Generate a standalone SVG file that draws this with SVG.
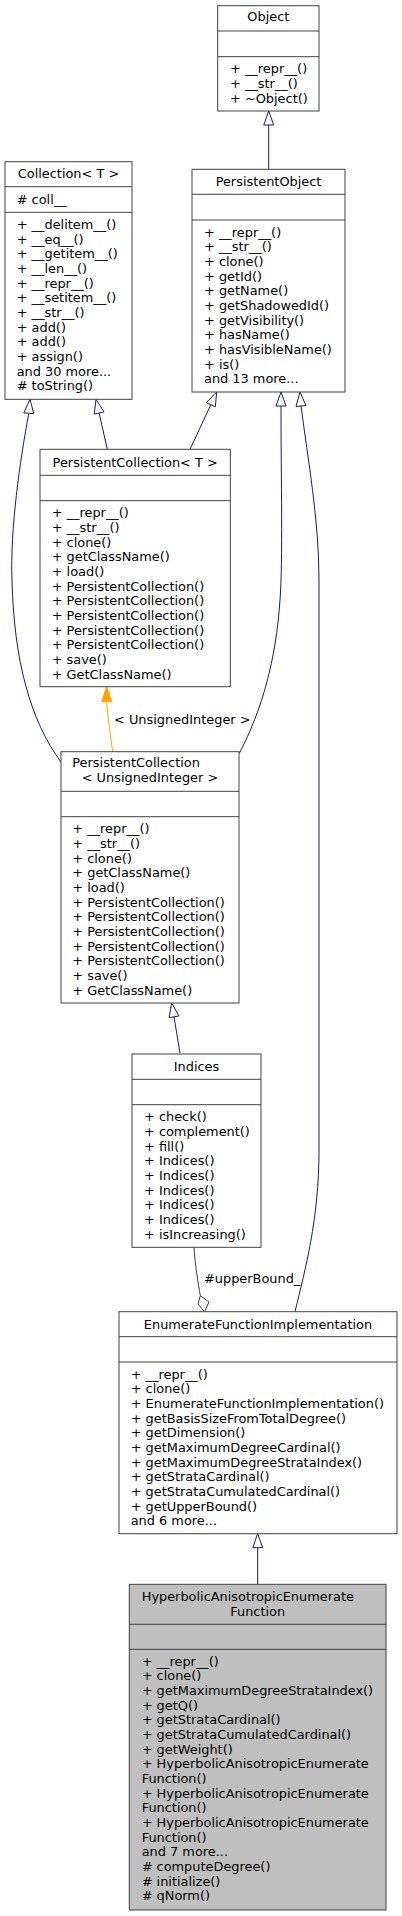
<svg xmlns="http://www.w3.org/2000/svg" width="402" height="1916" viewBox="0 0 402 1916">
<style>
.box{fill:#ffffff;stroke:#404040;stroke-width:1}
.grey{fill:#bfbfbf;stroke:#404040;stroke-width:1}
.sep{stroke:#404040;stroke-width:1}
text{font-family:"DejaVu Sans","Liberation Sans",sans-serif;font-size:12.9px;fill:#000}
.c{text-anchor:middle}
.e{fill:none;stroke:#191970;stroke-width:1}
.ah{fill:#ffffff;stroke:#191970;stroke-width:1}
.o{fill:none;stroke:#ffa500;stroke-width:1}
.oh{fill:#ffa500;stroke:#ffa500;stroke-width:1}
.g{fill:none;stroke:#404040;stroke-width:1}
.gh{fill:#ffffff;stroke:#404040;stroke-width:1}
</style>
<rect width="402" height="1916" fill="#ffffff"/>
<g id="connectors">
<path class="e" d="M268.7,169.3 L268.7,125"/>
<polygon class="ah" points="268.7,111 263.7,125 273.7,125"/>
<path class="e" d="M107.3,449.3 L99.1,413"/>
<polygon class="ah" points="96,399.3 104,411.9 94.2,414.1"/>
<path class="e" d="M190,449.3 L210.8,404.7"/>
<polygon class="ah" points="216.7,392 215.3,406.8 206.3,402.6"/>
<path class="e" d="M28.8,413.3 C20,460 10,530 12,580 C14,660 30,720 61,762"/>
<polygon class="ah" points="30,399.3 23.8,412.9 33.8,413.7"/>
<path class="e" d="M281,406 C281,480 283,560 280,600 C276,660 262,710 239.3,753.3"/>
<polygon class="ah" points="281,392 276,406 286,406"/>
<path class="e" d="M301,406 C308,460 319,520 319,580 L319,1150 C319,1220 305,1270 295,1311.7"/>
<polygon class="ah" points="300,392 296,406.4 306,405.6"/>
<path class="o" d="M106.7,701.7 C108,720 111,740 112.7,751.7"/>
<polygon class="oh" points="106.7,686.7 101.7,701.7 111.7,701.7"/>
<text x="114" y="723.5">&lt; UnsignedInteger &gt;</text>
<path class="e" d="M180,1053.3 L174,1016.8"/>
<polygon class="ah" points="171.7,1003 178.9,1016 169.1,1017.6"/>
<path class="g" d="M194,1247.3 C195,1265 198,1282 200.3,1295.7"/>
<polygon class="gh" points="204.5,1311.7 198,1304 200.3,1295.7 209,1302"/>
<text x="204" y="1283">#upperBound_</text>
<path class="e" d="M257.7,1547.7 L257.7,1584.3"/>
<polygon class="ah" points="257.7,1533.7 252.7,1547.7 262.7,1547.7"/>
</g>
<g id="Object">
<rect class="box" x="217.7" y="5.7" width="101.3" height="105.3"/>
<line class="sep" x1="217.7" y1="31" x2="319" y2="31"/>
<line class="sep" x1="217.7" y1="56.7" x2="319" y2="56.7"/>
<text class="c" x="268.3" y="21.2">Object</text>
<text x="230" y="73.2">+ __repr__()</text>
<text x="230" y="87.8">+ __str__()</text>
<text x="230" y="102.5">+ ~Object()</text>
</g>
<g id="Collection">
<rect class="box" x="5" y="161.7" width="127" height="237.6"/>
<line class="sep" x1="5" y1="186.7" x2="132" y2="186.7"/>
<line class="sep" x1="5" y1="212.3" x2="132" y2="212.3"/>
<text class="c" x="68.5" y="178">Collection&lt; T &gt;</text>
<text x="16.7" y="203.8"># coll__</text>
<text x="16.7" y="228.8">+ __delitem__()</text>
<text x="16.7" y="243.5">+ __eq__()</text>
<text x="16.7" y="258.1">+ __getitem__()</text>
<text x="16.7" y="272.8">+ __len__()</text>
<text x="16.7" y="287.5">+ __repr__()</text>
<text x="16.7" y="302.2">+ __setitem__()</text>
<text x="16.7" y="316.8">+ __str__()</text>
<text x="16.7" y="331.5">+ add()</text>
<text x="16.7" y="346.2">+ add()</text>
<text x="16.7" y="360.8">+ assign()</text>
<text x="16.7" y="375.5">and 30 more...</text>
<text x="16.7" y="390.2"># toString()</text>
</g>
<g id="PersistentObject">
<rect class="box" x="192" y="169.3" width="153" height="222.7"/>
<line class="sep" x1="192" y1="194.3" x2="345" y2="194.3"/>
<line class="sep" x1="192" y1="220" x2="345" y2="220"/>
<text class="c" x="268.5" y="186.3">PersistentObject</text>
<text x="204" y="236.5">+ __repr__()</text>
<text x="204" y="251.2">+ __str__()</text>
<text x="204" y="265.8">+ clone()</text>
<text x="204" y="280.5">+ getId()</text>
<text x="204" y="295.2">+ getName()</text>
<text x="204" y="309.8">+ getShadowedId()</text>
<text x="204" y="324.5">+ getVisibility()</text>
<text x="204" y="339.2">+ hasName()</text>
<text x="204" y="353.8">+ hasVisibleName()</text>
<text x="204" y="368.5">+ is()</text>
<text x="204" y="383.2">and 13 more...</text>
</g>
<g id="PersistentCollectionT">
<rect class="box" x="40" y="449.3" width="190.3" height="237.4"/>
<line class="sep" x1="40" y1="475.3" x2="230.3" y2="475.3"/>
<line class="sep" x1="40" y1="500.7" x2="230.3" y2="500.7"/>
<text class="c" x="135.2" y="466.8">PersistentCollection&lt; T &gt;</text>
<text x="51.7" y="517.2">+ __repr__()</text>
<text x="51.7" y="531.9">+ __str__()</text>
<text x="51.7" y="546.5">+ clone()</text>
<text x="51.7" y="561.2">+ getClassName()</text>
<text x="51.7" y="575.9">+ load()</text>
<text x="51.7" y="590.5">+ PersistentCollection()</text>
<text x="51.7" y="605.2">+ PersistentCollection()</text>
<text x="51.7" y="619.9">+ PersistentCollection()</text>
<text x="51.7" y="634.5">+ PersistentCollection()</text>
<text x="51.7" y="649.2">+ PersistentCollection()</text>
<text x="51.7" y="663.9">+ save()</text>
<text x="51.7" y="678.5">+ GetClassName()</text>
</g>
<g id="PersistentCollectionUI">
<rect class="box" x="61" y="751.7" width="178" height="251.3"/>
<line class="sep" x1="61" y1="791.3" x2="239" y2="791.3"/>
<line class="sep" x1="61" y1="816.7" x2="239" y2="816.7"/>
<text x="72.3" y="766.8">PersistentCollection</text>
<text class="c" x="150" y="781.8">&lt; UnsignedInteger &gt;</text>
<text x="72.3" y="833.2">+ __repr__()</text>
<text x="72.3" y="847.9">+ __str__()</text>
<text x="72.3" y="862.5">+ clone()</text>
<text x="72.3" y="877.2">+ getClassName()</text>
<text x="72.3" y="891.9">+ load()</text>
<text x="72.3" y="906.5">+ PersistentCollection()</text>
<text x="72.3" y="921.2">+ PersistentCollection()</text>
<text x="72.3" y="935.9">+ PersistentCollection()</text>
<text x="72.3" y="950.5">+ PersistentCollection()</text>
<text x="72.3" y="965.2">+ PersistentCollection()</text>
<text x="72.3" y="979.9">+ save()</text>
<text x="72.3" y="994.5">+ GetClassName()</text>
</g>
<g id="Indices">
<rect class="box" x="132" y="1054" width="129" height="193.3"/>
<line class="sep" x1="132" y1="1079.3" x2="261" y2="1079.3"/>
<line class="sep" x1="132" y1="1104.7" x2="261" y2="1104.7"/>
<text class="c" x="196.5" y="1070.8">Indices</text>
<text x="144" y="1121.2">+ check()</text>
<text x="144" y="1135.9">+ complement()</text>
<text x="144" y="1150.5">+ fill()</text>
<text x="144" y="1165.2">+ Indices()</text>
<text x="144" y="1179.9">+ Indices()</text>
<text x="144" y="1194.5">+ Indices()</text>
<text x="144" y="1209.2">+ Indices()</text>
<text x="144" y="1223.9">+ Indices()</text>
<text x="144" y="1238.5">+ isIncreasing()</text>
</g>
<g id="EnumerateFunctionImplementation">
<rect class="box" x="119" y="1311.7" width="278" height="222"/>
<line class="sep" x1="119" y1="1336.7" x2="397" y2="1336.7"/>
<line class="sep" x1="119" y1="1362" x2="397" y2="1362"/>
<text class="c" x="258" y="1328.7">EnumerateFunctionImplementation</text>
<text x="130.7" y="1378.5">+ __repr__()</text>
<text x="130.7" y="1393.2">+ clone()</text>
<text x="130.7" y="1407.8">+ EnumerateFunctionImplementation()</text>
<text x="130.7" y="1422.5">+ getBasisSizeFromTotalDegree()</text>
<text x="130.7" y="1437.2">+ getDimension()</text>
<text x="130.7" y="1451.8">+ getMaximumDegreeCardinal()</text>
<text x="130.7" y="1466.5">+ getMaximumDegreeStrataIndex()</text>
<text x="130.7" y="1481.2">+ getStrataCardinal()</text>
<text x="130.7" y="1495.8">+ getStrataCumulatedCardinal()</text>
<text x="130.7" y="1510.5">+ getUpperBound()</text>
<text x="130.7" y="1525.2">and 6 more...</text>
</g>
<g id="HyperbolicAnisotropicEnumerateFunction">
<rect class="grey" x="129.3" y="1584.3" width="256.7" height="325.7"/>
<line class="sep" x1="129.3" y1="1624.3" x2="386" y2="1624.3"/>
<line class="sep" x1="129.3" y1="1649.3" x2="386" y2="1649.3"/>
<text x="141.7" y="1601.2">HyperbolicAnisotropicEnumerate</text>
<text class="c" x="257.7" y="1615.8">Function</text>
<text x="141.7" y="1665.5">+ __repr__()</text>
<text x="141.7" y="1680.2">+ clone()</text>
<text x="141.7" y="1694.8">+ getMaximumDegreeStrataIndex()</text>
<text x="141.7" y="1709.5">+ getQ()</text>
<text x="141.7" y="1724.2">+ getStrataCardinal()</text>
<text x="141.7" y="1738.8">+ getStrataCumulatedCardinal()</text>
<text x="141.7" y="1753.5">+ getWeight()</text>
<text x="141.7" y="1768.2">+ HyperbolicAnisotropicEnumerate</text>
<text x="141.7" y="1782.8">Function()</text>
<text x="141.7" y="1797.5">+ HyperbolicAnisotropicEnumerate</text>
<text x="141.7" y="1812.2">Function()</text>
<text x="141.7" y="1826.8">+ HyperbolicAnisotropicEnumerate</text>
<text x="141.7" y="1841.5">Function()</text>
<text x="141.7" y="1856.2">and 7 more...</text>
<text x="141.7" y="1870.8"># computeDegree()</text>
<text x="141.7" y="1885.5"># initialize()</text>
<text x="141.7" y="1900.2"># qNorm()</text>
</g>
</svg>
